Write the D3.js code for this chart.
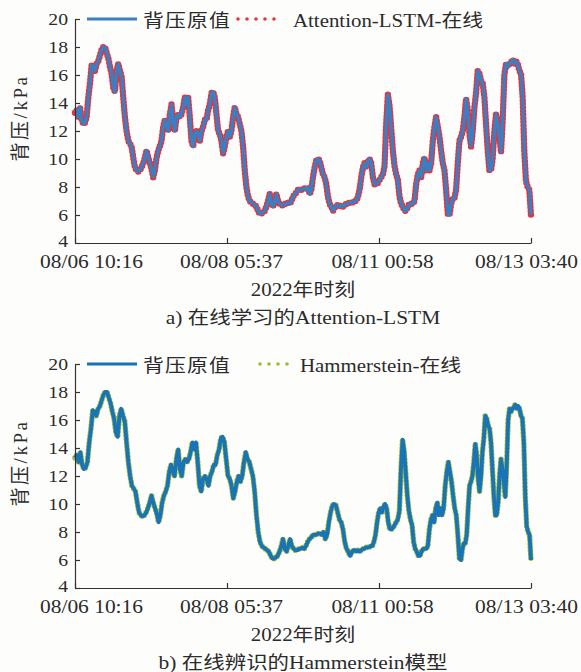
<!DOCTYPE html>
<html>
<head>
<meta charset="utf-8">
<script src="https://cdn.jsdelivr.net/npm/d3@7"></script>
<style>
  html, body { margin: 0; padding: 0; background: #fdfdfc; }
  svg { display: block; }
  text { fill: #2b2b2b; font-family: "Liberation Serif", "Noto Sans CJK SC", serif; }
</style>
</head>
<body>
<svg id="chart" width="581" height="672"></svg>
<script>
// ---- data -------------------------------------------------------------
const xTickLabels = ["08/06 10:16", "08/08 05:37", "08/11 00:58", "08/13 03:40"];
const yTickValues = [4, 6, 8, 10, 12, 14, 16, 18, 20];

// measured turbine back pressure (kPa), evenly spaced samples
const backPressure = [
  13.3, 13.5, 13.0, 13.7, 12.8, 12.5, 12.6, 13.0, 14.4, 15.4, 16.7, 16.6, 16.3, 16.8, 17.0, 17.4,
  17.8, 18.0, 18.0, 17.6, 17.2, 16.6, 16.1, 15.1, 14.8, 16.3, 16.8, 16.3, 15.9, 14.4, 13.0, 12.0,
  11.3, 11.1, 10.9, 10.1, 9.4, 9.2, 9.1, 9.2, 9.4, 9.7, 10.1, 10.6, 10.1, 9.7, 9.3, 8.7,
  9.2, 10.1, 10.6, 10.9, 11.3, 12.3, 12.8, 12.3, 12.0, 13.2, 13.9, 12.5, 12.0, 13.0, 13.2, 13.0,
  13.2, 13.7, 14.4, 13.9, 14.4, 13.0,
  11.3, 10.9, 11.8, 12.0, 11.8, 11.3, 12.0, 12.3, 12.8, 12.8, 13.5, 13.9, 14.7, 14.8, 14.4, 13.2,
  12.0, 11.8, 11.3, 10.4, 10.9, 11.6, 12.0, 11.6, 12.0, 13.0, 13.7, 13.2, 13.0, 12.5, 12.0, 10.9,
  9.2, 8.0, 7.3, 7.0, 6.9, 6.8, 6.7, 6.6, 6.3, 6.1, 6.1, 6.2, 6.3, 6.6, 7.0, 7.5,
  6.8, 6.6, 7.0, 7.5, 7.0, 6.8, 6.7, 6.7, 6.8, 6.8, 6.9, 6.8, 7.0, 7.3, 7.5, 7.6,
  7.8, 7.8, 7.8, 7.9, 7.9,
  7.8, 8.0, 7.5, 7.8, 8.7, 9.4, 9.9, 10.0, 9.9, 9.4, 8.9, 8.7, 8.2, 7.3, 6.8, 6.6,
  6.3, 6.5, 6.7, 6.7, 6.6, 6.7, 6.6, 6.7, 6.8, 6.8, 6.9, 6.9, 6.9, 7.0, 7.0, 7.3,
  7.8, 8.7, 9.4, 9.7, 9.4, 9.8, 10.0, 9.7, 8.7, 8.2, 8.2, 8.3, 8.5, 8.7, 8.9, 9.5,
  12.5, 14.6, 13.8, 12.2, 10.6, 9.5, 8.9, 8.5, 7.3, 6.8, 6.6, 6.3, 6.3, 6.6, 6.8, 6.8,
  6.8, 7.0,
  8.2, 8.9, 9.2, 8.7, 9.7, 10.1, 9.2, 9.7, 9.2, 9.7, 11.3, 12.3, 13.0, 12.3, 11.6, 10.6,
  9.7, 9.2, 7.8, 6.1, 6.0, 6.8, 7.2, 7.2, 7.8, 9.7, 11.3, 11.6, 12.0, 13.0, 14.3, 13.5,
  11.8, 10.9, 12.0, 13.7, 14.7, 16.3, 16.1, 15.6, 15.4, 14.4, 12.5, 10.6, 9.2, 9.2, 10.1, 12.0,
  13.2, 12.5, 11.6, 10.5, 12.8, 16.0, 16.8, 16.6, 16.8, 16.9, 17.1, 16.8, 17.0, 16.8, 16.3, 16.1,
  14.4, 10.5, 8.4, 8.0, 7.8, 6.0
];
// online model outputs follow the measurements point for point at this scale
const lstmOnline = backPressure;
const hammersteinOnline = backPressure;

// sample indices where the identification run's time base changes pace
const hammersteinBreakIdx = [0, 18, 113, 155, 187, 225, 274];

// ---- layout -------------------------------------------------------------
const SX = 1.16;                       // horizontal text stretch of the figure
const plotLeft = 75, plotRight = 531;
const labelShift = [16, 4, 3, -5];     // x-offsets of the date labels
const N = backPressure.length;

const panels = [
  { top: 19, bottom: 243, fit: lstmOnline, lineColor: "#3a7fc1", dotColor: "#e8323c",
    lineWidth: 3.4, dotWidth: 6.4,
    x: d3.scaleLinear().domain([0, N - 1]).range([plotLeft, plotRight]),
    fitName: "Attention-LSTM-在线", dotStart: 238, dotEnd: 283, fitTextX: 293,
    caption: "a) 在线学习的Attention-LSTM" },
  { top: 364, bottom: 588, fit: hammersteinOnline, lineColor: "#1874b6", dotColor: "#9bbb3a",
    lineWidth: 3.8, dotWidth: 5.6,
    x: d3.scaleLinear().domain(hammersteinBreakIdx).range([plotLeft, 107, 276, 350, 401, 461, plotRight]),
    fitName: "Hammerstein-在线", dotStart: 260, dotEnd: 296, fitTextX: 300,
    caption: "b) 在线辨识的Hammerstein模型" }
];

const svg = d3.select("#chart");

function stretchedText(parent, x, y, str, size, anchor) {
  return parent.append("text")
    .attr("transform", `translate(${x},${y}) scale(${SX},1)`)
    .attr("text-anchor", anchor || "start")
    .style("font-size", size + "px")
    .text(str);
}

panels.forEach(p => {
  const g = svg.append("g");
  const x = p.x;
  const y = d3.scaleLinear().domain([4, 20]).range([p.bottom, p.top]);
  const xAxisScale = d3.scaleLinear().domain([0, xTickLabels.length - 1]).range([plotLeft, plotRight]);

  // fitted series: thick dotted trace underneath
  const line = d3.line().x((d, i) => x(i)).y(d => y(d));
  g.append("path").datum(p.fit)
    .attr("d", line)
    .attr("fill", "none")
    .attr("stroke", p.dotColor)
    .attr("stroke-width", p.dotWidth)
    .attr("stroke-linecap", "round")
    .attr("stroke-linejoin", "round")
    .attr("stroke-dasharray", "0 3.6");

  // measured back pressure
  g.append("path").datum(backPressure)
    .attr("d", line)
    .attr("fill", "none")
    .attr("stroke", p.lineColor)
    .attr("stroke-width", p.lineWidth)
    .attr("stroke-linejoin", "round");

  // y axis (ticks point inward)
  const yAxis = g.append("g")
    .attr("transform", `translate(${plotLeft},0)`)
    .call(d3.axisLeft(y).tickValues(yTickValues).tickSizeInner(-5).tickSizeOuter(0).tickPadding(7));
  yAxis.selectAll("text")
    .attr("transform", `scale(${SX},1)`)
    .attr("x", -7 / SX)
    .attr("y", d => d === 4 ? -1.5 : 0)
    .style("font-size", "17px");

  // x axis
  const xAxis = g.append("g")
    .attr("transform", `translate(0,${p.bottom})`)
    .call(d3.axisBottom(xAxisScale).tickValues(d3.range(xTickLabels.length))
      .tickFormat((d, i) => xTickLabels[i])
      .tickSizeInner(-5).tickSizeOuter(0).tickPadding(12));
  xAxis.selectAll("text")
    .attr("transform", (d, i) => `translate(${labelShift[i]},0) scale(${SX},1)`)
    .style("font-size", "18.5px");

  [yAxis, xAxis].forEach(a => {
    a.attr("font-family", null).attr("font-size", null);
    a.selectAll("path, line").attr("stroke", "#333").attr("stroke-width", 1.2);
  });

  // axis titles
  stretchedText(g, (plotLeft + plotRight) / 2, p.bottom + 53, "2022年时刻", 18, "middle");
  g.append("text")
    .attr("transform", `translate(27,${p.top + 99}) rotate(-90)`)
    .attr("text-anchor", "middle")
    .style("font-size", "19px")
    .style("letter-spacing", "2.5px")
    .text("背压/kPa");

  // caption
  stretchedText(g, 303, p.bottom + 81, p.caption, 18.5, "middle");

  // legend
  const ly = p.top;
  g.append("line")
    .attr("x1", 87).attr("x2", 137).attr("y1", ly).attr("y2", ly)
    .attr("stroke", p.lineColor).attr("stroke-width", 3.2);
  stretchedText(g, 143, ly + 8, "背压原值", 18, "start").style("letter-spacing", "1px");
  g.append("line")
    .attr("x1", p.dotStart).attr("x2", p.dotEnd).attr("y1", ly).attr("y2", ly)
    .attr("stroke", p.dotColor).attr("stroke-width", 3.6)
    .attr("stroke-linecap", "round").attr("stroke-dasharray", "0 9");
  stretchedText(g, p.fitTextX, ly + 8, p.fitName, 18, "start");
});
</script>
</body>
</html>
